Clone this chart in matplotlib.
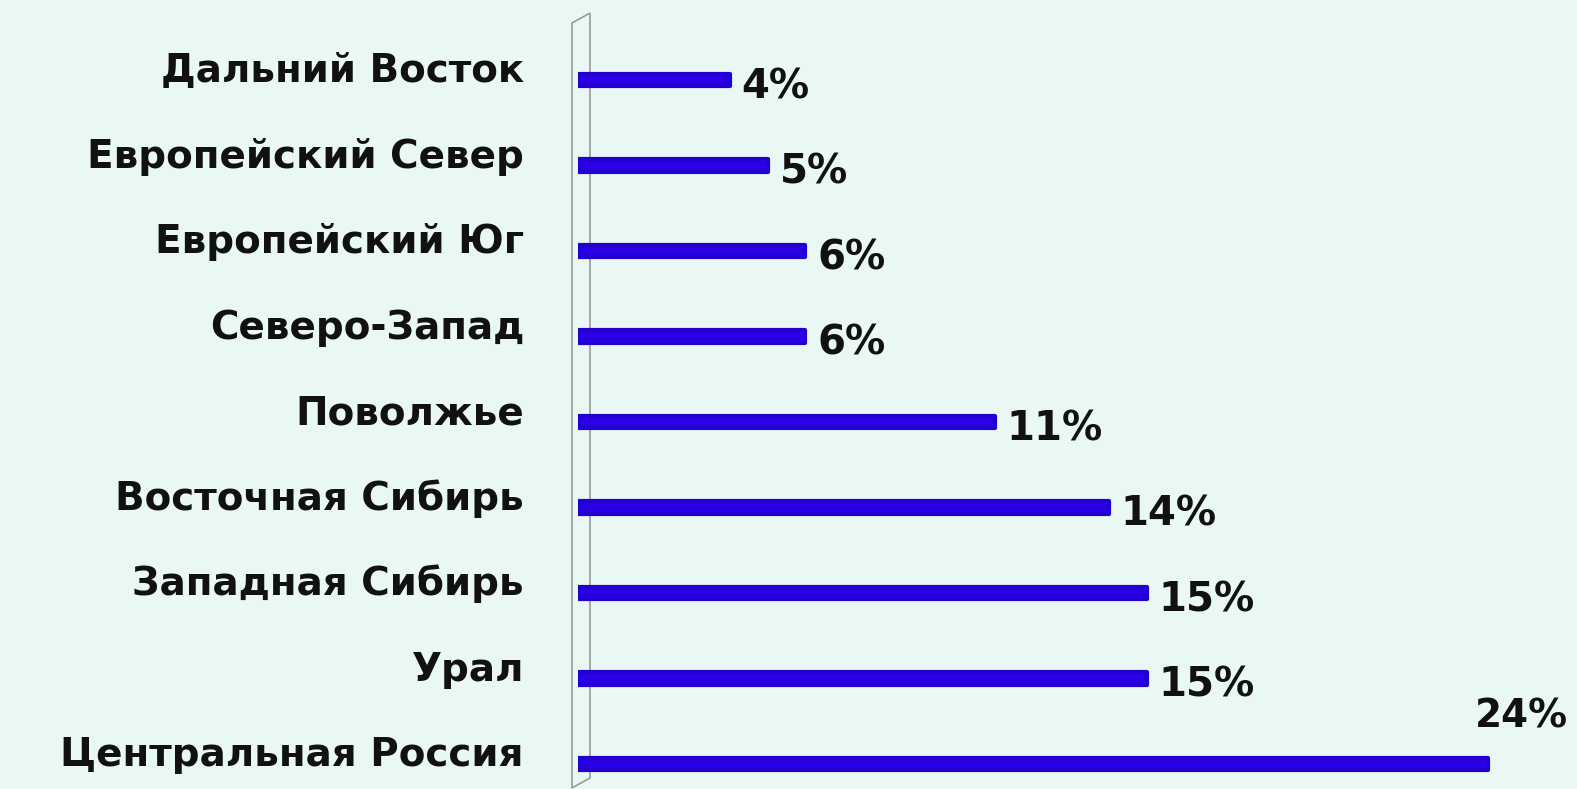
import matplotlib
matplotlib.use("Agg")
import matplotlib.pyplot as plt
from matplotlib.patches import Polygon

# Data (bottom to top)
regions = [
    "Центральная Россия",
    "Урал",
    "Западная Сибирь",
    "Восточная Сибирь",
    "Поволжье",
    "Северо-Запад",
    "Европейский Юг",
    "Европейский Север",
    "Дальний Восток",
]
shares = [24, 15, 15, 14, 11, 6, 6, 5, 4]

W, H = 1577, 789
bg = "#e9f8f5"
PT = 0.72  # points per pixel at dpi 100

fig = plt.figure(figsize=(W / 100, H / 100), dpi=100, facecolor=bg)

# axes: x=0 at pixel 578, 37.9 px per percent
left_px = 578
px_per = 37.9
xmax = (W - left_px) / px_per
ax = fig.add_axes([left_px / W, 0, 1 - left_px / W, 1])
ax.set_facecolor("none")
ax.set_xlim(0, xmax)
ax.set_ylim(-0.292, 8.936)
ax.axis("off")

# 3D-ish wall behind the bars
wall = Polygon(
    [(572 / W, 1 - 23 / H), (590 / W, 1 - 13 / H), (590 / W, 1 - 778 / H), (572 / W, 1 - 788 / H)],
    closed=True, transform=fig.transFigure, facecolor=bg, edgecolor="#9a9a9a",
    linewidth=1.2, zorder=-1,
)
fig.add_artist(wall)

ypos = list(range(len(regions)))
bars = ax.barh(ypos, shares, height=0.15, color="#2a00e6", edgecolor="#2400d0",
               linewidth=3.0, zorder=3)
for b in bars:
    b.set_joinstyle("round")

font = dict(family="DejaVu Sans", weight="bold", color="#111111")

for y, name, v in zip(ypos, regions, shares):
    ax.annotate(name, (0, y), xycoords="data", textcoords="offset points",
                xytext=(-54 * PT, 9 * PT), ha="right", va="center", fontsize=28, **font)
    if v == max(shares):
        ax.annotate(f"{v}%", (v, y), textcoords="offset points",
                    xytext=(80 * PT, 48 * PT), ha="right", va="center", fontsize=28, **font)
    else:
        ax.annotate(f"{v}%", (v, y), textcoords="offset points",
                    xytext=(12 * PT, -7 * PT), ha="left", va="center", fontsize=29, **font)

fig.savefig("out.png", dpi=100, facecolor=bg)
